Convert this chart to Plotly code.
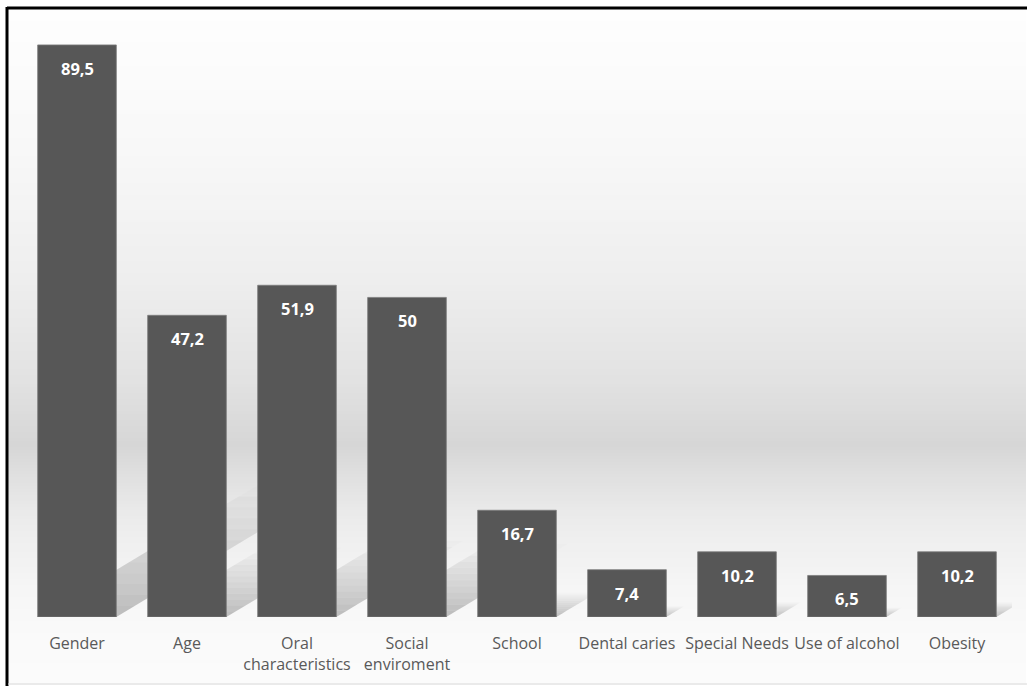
import plotly.graph_objects as go

categories = ["Gender", "Age", "Oral<br>characteristics", "Social<br>enviroment", "School",
              "Dental caries", "Special Needs", "Use of alcohol", "Obesity"]
values = [89.5, 47.2, 51.9, 50, 16.7, 7.4, 10.2, 6.5, 10.2]
value_labels = [str(v).replace(".", ",") for v in values]

W, H = 1027, 686
ML, MR, MT, MB = 22, 15, 20, 69
PW, PH = W - ML - MR, H - MT - MB
YMAX = 93.4
BAR_W = 0.715

def px_x(px):
    return (px - ML) / PW

def px_y(py):
    return (H - MB - py) / PH

idx = list(range(len(categories)))

fig = go.Figure()
fig.add_trace(go.Bar(
    x=idx, y=values, width=BAR_W,
    marker=dict(color="#575757", line=dict(color="#7c7c7c", width=0.8)),
    hoverinfo="skip", showlegend=False,
))

shapes = []
# background vertical gradient (white -> grey band -> white)
stops = [(8, 254), (150, 248), (280, 238), (380, 226), (445, 214), (462, 220),
         (520, 236), (590, 246), (640, 250), (686, 251)]
def bg_val(py):
    for (y0, c0), (y1, c1) in zip(stops[:-1], stops[1:]):
        if y0 <= py <= y1:
            return c0 + (c1 - c0) * (py - y0) / (y1 - y0)
    return stops[-1][1]
step = 3
py = 9
while py < 684:
    c = int(round(bg_val(py + step / 2)))
    shapes.append(dict(type="rect", xref="paper", yref="paper", layer="below",
                       x0=px_x(8), x1=px_x(W - 1), y0=px_y(py + step + 0.5), y1=px_y(py),
                       fillcolor=f"rgb({c},{c},{c})", line=dict(width=0)))
    py += step

# perspective shadows behind bars
px_per_x = PW / len(categories)
px_per_y = PH / YMAX
N = 12
for i, v in zip(idx, values):
    dy = 0.23 * v
    dx = (dy * px_per_y / 0.6) / px_per_x
    xl, xr = i - BAR_W / 2, i + BAR_W / 2
    for k in range(N):
        t0, t1 = k / N, (k + 1) / N
        pts = [(xl + t0 * dx, t0 * dy), (xr + t0 * dx, t0 * dy),
               (xr + t1 * dx, t1 * dy), (xl + t1 * dx, t1 * dy)]
        path = "M " + " L ".join(f"{a},{b}" for a, b in pts) + " Z"
        shapes.append(dict(type="path", xref="x", yref="y", layer="below", path=path,
                           fillcolor="black", opacity=0.24 * (1 - (k + 0.5) / N),
                           line=dict(width=0)))

# frame
shapes.append(dict(type="line", xref="paper", yref="paper", x0=px_x(7), x1=px_x(W),
                   y0=px_y(8), y1=px_y(8), line=dict(color="black", width=3)))
shapes.append(dict(type="line", xref="paper", yref="paper", x0=px_x(7), x1=px_x(7),
                   y0=px_y(7), y1=px_y(H), line=dict(color="black", width=3)))
shapes.append(dict(type="line", xref="paper", yref="paper", x0=px_x(8), x1=px_x(W),
                   y0=px_y(684), y1=px_y(684), line=dict(color="#d8d8d8", width=1)))

annotations = []
for i, v, t in zip(idx, values, value_labels):
    annotations.append(dict(x=i, y=v, xref="x", yref="y", text=f"<b>{t}</b>",
                            showarrow=False, yanchor="top", yshift=-10,
                            font=dict(family="Open Sans", size=16.5, color="white")))

fig.update_layout(
    width=W, height=H,
    margin=dict(l=ML, r=MR, t=MT, b=MB),
    paper_bgcolor="white", plot_bgcolor="rgba(0,0,0,0)",
    shapes=shapes, annotations=annotations,
    xaxis=dict(range=[-0.5, len(categories) - 0.5], tickvals=idx, ticktext=categories,
               tickangle=0, showgrid=False, zeroline=False, showline=False,
               ticklabelstandoff=15,
               tickfont=dict(family="Open Sans", size=16, color="#595959")),
    yaxis=dict(range=[0, YMAX], visible=False),
)

fig.write_html("out.html")
